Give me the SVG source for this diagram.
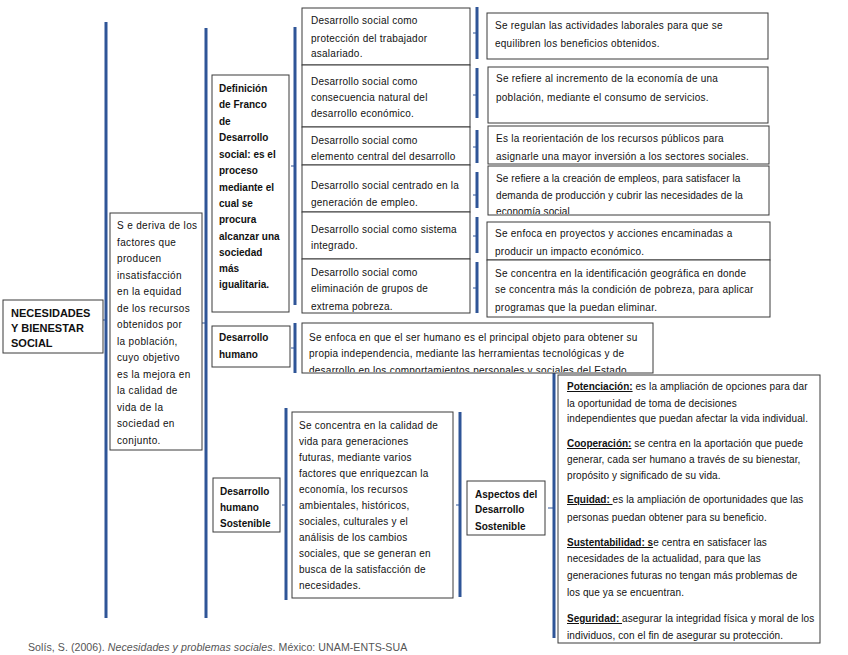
<svg xmlns="http://www.w3.org/2000/svg" width="848" height="655" viewBox="0 0 848 655">
<style>
.box{fill:#fff;stroke:#3a3a3a;stroke-width:1}
.br{fill:none;stroke:#2F5597;stroke-width:3}
.tk{fill:none;stroke:#2F5597;stroke-width:1}
text{font-family:"Liberation Sans",Arial,sans-serif;font-size:10px;fill:#111;letter-spacing:0.25px}
.b{font-weight:bold;letter-spacing:0}
.t{font-size:11px;font-weight:bold;letter-spacing:0}
.u{font-weight:bold;text-decoration:underline;letter-spacing:0}
.w{letter-spacing:0.35px}
.a{letter-spacing:0.1px}
.cit{font-size:10.6px;fill:#555;letter-spacing:0.05px}
</style>
<defs>
<clipPath id="cR4"><rect x="488" y="166" width="281" height="48"/></clipPath>
<clipPath id="cF"><rect x="302" y="259" width="168" height="53"/></clipPath>
<clipPath id="cDH"><rect x="302" y="323" width="351" height="49"/></clipPath>
</defs>

<g id="connectors">
<path class="br" d="M106,22V618"/><path class="tk" d="M106,320H102"/>
<path class="br" d="M206,28V618"/><path class="tk" d="M206,323H202"/>
<path class="br" d="M295,27V305"/><path class="tk" d="M295,166H291"/>
<path class="br" d="M295,323V373"/><path class="tk" d="M295,348H291"/>
<path class="br" d="M286,408V600"/><path class="tk" d="M286,505H282"/>
<path class="br" d="M460,412V597"/><path class="tk" d="M460,505H456"/>
<path class="br" d="M554,368V638"/><path class="tk" d="M554,508H548"/>
<path class="br" d="M477,7V59"/><path class="tk" d="M477,33H473"/>
<path class="br" d="M477,68V118"/><path class="tk" d="M477,95H473"/>
<path class="br" d="M477,130V163"/><path class="tk" d="M477,147H473"/>
<path class="br" d="M477,172V208"/><path class="tk" d="M477,195H473"/>
<path class="br" d="M477,217V253"/><path class="tk" d="M477,236H473"/>
<path class="br" d="M477,262V313"/><path class="tk" d="M477,288H473"/>
</g>

<g id="n-root">
<rect class="box" x="3" y="300" width="100" height="53"/>
<text class="t" x="11" y="317">NECESIDADES</text>
<text class="t" x="11" y="332">Y BIENESTAR</text>
<text class="t" x="11" y="347">SOCIAL</text>
</g>

<g id="n-deriva">
<rect class="box" x="110" y="213" width="92" height="237"/>
<text class="w" x="117" y="229">S e deriva de los</text>
<text class="w" x="117" y="245.5">factores que</text>
<text class="w" x="117" y="262">producen</text>
<text class="w" x="117" y="278.5">insatisfacción</text>
<text class="w" x="117" y="295">en la equidad</text>
<text class="w" x="117" y="311.5">de los recursos</text>
<text class="w" x="117" y="328">obtenidos por</text>
<text class="w" x="117" y="344.5">la población,</text>
<text class="w" x="117" y="361">cuyo objetivo</text>
<text class="w" x="117" y="377.5">es la mejora en</text>
<text class="w" x="117" y="394">la calidad de</text>
<text class="w" x="117" y="410.5">vida de la</text>
<text class="w" x="117" y="427">sociedad en</text>
<text class="w" x="117" y="443.5">conjunto.</text>
</g>

<g id="n-definicion">
<rect class="box" x="212" y="75" width="77" height="237"/>
<text class="b" x="219" y="92">Definición</text>
<text class="b" x="219" y="108">de Franco</text>
<text class="b" x="219" y="124.5">de</text>
<text class="b" x="219" y="141">Desarrollo</text>
<text class="b" x="219" y="157.5">social: es el</text>
<text class="b" x="219" y="174">proceso</text>
<text class="b" x="219" y="190.5">mediante el</text>
<text class="b" x="219" y="207">cual se</text>
<text class="b" x="219" y="223">procura</text>
<text class="b" x="219" y="239.5">alcanzar una</text>
<text class="b" x="219" y="256">sociedad</text>
<text class="b" x="219" y="272">más</text>
<text class="b" x="219" y="288">igualitaria.</text>
</g>

<g id="n-dh">
<rect class="box" x="212" y="326" width="78" height="41"/>
<text class="b" x="219" y="341">Desarrollo</text>
<text class="b" x="219" y="358">humano</text>
</g>

<g id="n-dhs">
<rect class="box" x="213" y="478" width="67" height="54"/>
<text class="b" x="220" y="495">Desarrollo</text>
<text class="b" x="220" y="511">humano</text>
<text class="b" x="220" y="527">Sostenible</text>
</g>

<g id="n-sA">
<rect class="box" x="302" y="8" width="168" height="57"/>
<text x="311" y="24">Desarrollo social como</text>
<text x="311" y="42">protección del trabajador</text>
<text x="311" y="57">asalariado.</text>
</g>
<g id="n-sB">
<rect class="box" x="302" y="65" width="168" height="62"/>
<text x="311" y="85">Desarrollo social como</text>
<text x="311" y="101">consecuencia natural del</text>
<text x="311" y="117">desarrollo económico.</text>
</g>
<g id="n-sC">
<rect class="box" x="302" y="127" width="168" height="38"/>
<text x="311" y="144">Desarrollo social como</text>
<text x="311" y="160">elemento central del desarrollo</text>
</g>
<g id="n-sD">
<rect class="box" x="302" y="165" width="168" height="47"/>
<text x="311" y="189">Desarrollo social centrado en la</text>
<text x="311" y="206">generación de empleo.</text>
</g>
<g id="n-sE">
<rect class="box" x="302" y="212" width="168" height="47"/>
<text x="311" y="233">Desarrollo social como sistema</text>
<text x="311" y="249">integrado.</text>
</g>
<g id="n-sF">
<rect class="box" x="302" y="259" width="168" height="54"/>
<g clip-path="url(#cF)">
<text x="311" y="276">Desarrollo social como</text>
<text x="311" y="292">eliminación de grupos de</text>
<text x="311" y="310">extrema pobreza.</text>
</g>
</g>

<g id="n-r1">
<rect class="box" x="487" y="13" width="281" height="46"/>
<text x="495" y="29">Se regulan las actividades laborales para que se</text>
<text x="495" y="47">equilibren los beneficios obtenidos.</text>
</g>
<g id="n-r2">
<rect class="box" x="488" y="67" width="280" height="56"/>
<text x="496" y="82">Se refiere al incremento de la economía de una</text>
<text x="496" y="101">población, mediante el consumo de servicios.</text>
</g>
<g id="n-r3">
<rect class="box" x="488" y="126" width="281" height="38"/>
<text x="496" y="142">Es la reorientación de los recursos públicos para</text>
<text x="496" y="160">asignarle una mayor inversión a los sectores sociales.</text>
</g>
<g id="n-r4">
<rect class="box" x="488" y="166" width="281" height="49"/>
<g clip-path="url(#cR4)">
<text class="a" x="496" y="182">Se refiere a la creación de empleos, para satisfacer la</text>
<text class="a" x="496" y="199">demanda de producción y cubrir las necesidades de la</text>
<text class="a" x="496" y="215">economía social</text>
</g>
</g>
<g id="n-r5">
<rect class="box" x="487" y="222" width="283" height="38"/>
<text x="495" y="237">Se enfoca en proyectos y acciones encaminadas a</text>
<text x="495" y="255">producir un impacto económico.</text>
</g>
<g id="n-r6">
<rect class="box" x="487" y="260" width="283" height="57"/>
<text x="495" y="277">Se concentra en la identificación geográfica en donde</text>
<text x="495" y="293">se concentra más la condición de pobreza, para aplicar</text>
<text x="495" y="311">programas que la puedan eliminar.</text>
</g>

<g id="n-dhdesc">
<rect class="box" x="302" y="323" width="351" height="50"/>
<g clip-path="url(#cDH)">
<text x="309" y="341">Se enfoca en que el ser humano es el principal objeto para obtener su</text>
<text x="309" y="357">propia independencia, mediante las herramientas tecnológicas y de</text>
<text x="309" y="374">desarrollo en los comportamientos personales y sociales del Estado</text>
</g>
</g>

<g id="n-dhsdesc">
<rect class="box" x="292" y="412" width="161" height="186"/>
<text x="299" y="429">Se concentra en la calidad de</text>
<text x="299" y="445">vida para generaciones</text>
<text x="299" y="461">futuras, mediante varios</text>
<text x="299" y="477">factores que enriquezcan la</text>
<text x="299" y="493">economía, los recursos</text>
<text x="299" y="509">ambientales, históricos,</text>
<text x="299" y="525">sociales, culturales y el</text>
<text x="299" y="541">análisis de los cambios</text>
<text x="299" y="557">sociales, que se generan en</text>
<text x="299" y="573">busca de la satisfacción de</text>
<text x="299" y="589">necesidades.</text>
</g>

<g id="n-aspectos">
<rect class="box" x="467" y="481" width="78" height="54"/>
<text class="b" x="475" y="498">Aspectos del</text>
<text class="b" x="475" y="513">Desarrollo</text>
<text class="b" x="475" y="530">Sostenible</text>
</g>

<g id="n-aspdesc">
<rect class="box" x="558" y="375" width="262" height="268"/>
<text class="a" x="567" y="390"><tspan class="u">Potenciación:</tspan> es la ampliación de opciones para dar</text>
<text class="a" x="567" y="407">la oportunidad de toma de decisiones</text>
<text class="a" x="567" y="422">independientes que puedan afectar la vida individual.</text>
<text class="a" x="567" y="447"><tspan class="u">Cooperación:</tspan> se centra en la aportación que puede</text>
<text class="a" x="567" y="463">generar, cada ser humano a través de su bienestar,</text>
<text class="a" x="567" y="479">propósito y significado de su vida.</text>
<text class="a" x="567" y="503"><tspan class="u">Equidad: </tspan>es la ampliación de oportunidades que las</text>
<text class="a" x="567" y="521">personas puedan obtener para su beneficio.</text>
<text class="a" x="567" y="546"><tspan class="u">Sustentabilidad: s</tspan>e centra en satisfacer las</text>
<text class="a" x="567" y="562">necesidades de la actualidad, para que las</text>
<text class="a" x="567" y="579">generaciones futuras no tengan más problemas de</text>
<text class="a" x="567" y="596">los que ya se encuentran.</text>
<text class="a" x="567" y="622"><tspan class="u">Seguridad: </tspan>asegurar la integridad física y moral de los</text>
<text class="a" x="567" y="639">individuos, con el fin de asegurar su protección.</text>
</g>

<text class="cit" x="28" y="651">Solís, S. (2006). <tspan font-style="italic">Necesidades y problemas sociales</tspan>. México: UNAM-ENTS-SUA</text>
</svg>
